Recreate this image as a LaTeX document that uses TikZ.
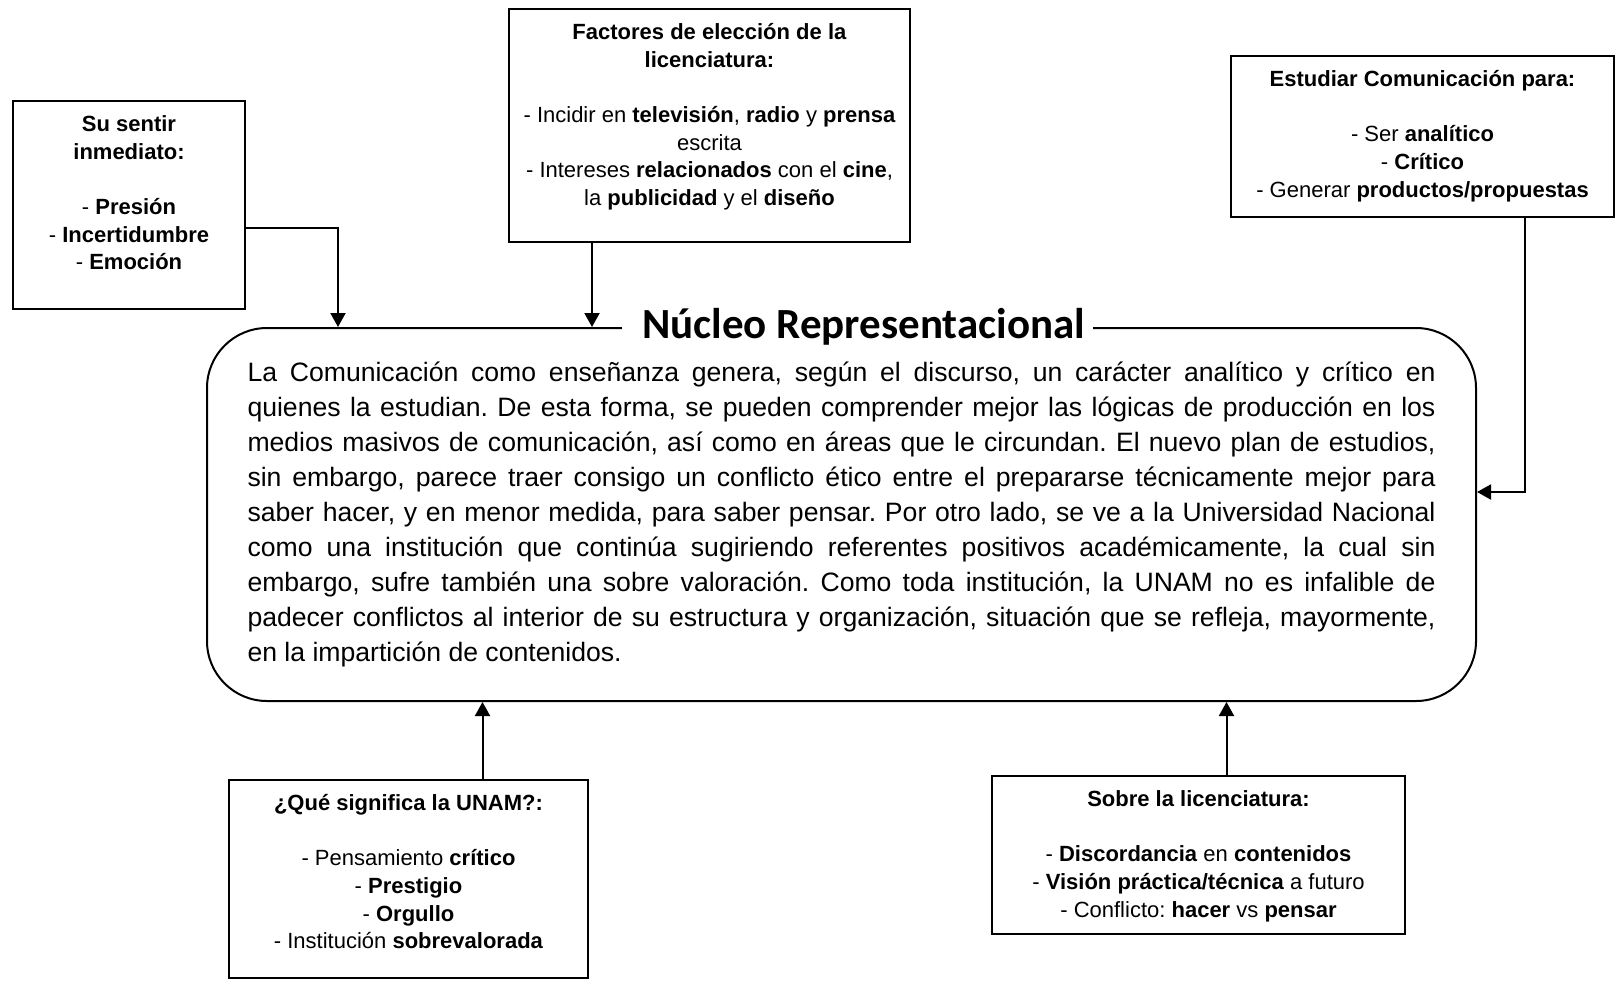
\documentclass[tikz,border=0pt]{standalone}
\usepackage{fontspec}
\setmainfont{Liberation Sans}
\newfontfamily\titlefont{Carlito}
\usetikzlibrary{arrows.meta}
\frenchspacing

\newcommand{\boxfont}{\fontsize{11}{13.85}\selectfont}
\newcommand{\bodyfont}{\fontsize{13.3}{17.55}\selectfont\hyphenpenalty=10000\exhyphenpenalty=10000}

\begin{document}
\begin{tikzpicture}[
    x = 0.5pt,
    y = -0.5pt,
    >={Triangle[length=7pt,width=7.5pt]},
    frame/.style = {draw, line width=1pt, inner sep=0pt, anchor=north west},
    boxtext/.style = {anchor=north, inner sep=0pt, align=center, font=\boxfont},
    link/.style = {->, line width=1pt},
    ]
\useasboundingbox (0,0) rectangle (1615,980);

% cajas de alrededor
\node[frame, minimum width=116pt, minimum height=104pt] (sentir) at (12,100){};
\node[frame, minimum width=200.5pt, minimum height=116.5pt] (factores) at (508,8){};
\node[frame, minimum width=191.5pt, minimum height=80.5pt] (estudiar) at (1230,55){};
\node[frame, minimum width=179.5pt, minimum height=99pt] (unam) at (228,779){};
\node[frame, minimum width=206.5pt, minimum height=79pt] (sobre) at (991,775){};

\node[boxtext] (sentir_txt) at ([yshift=-5.8pt]sentir.north)
    {\strut\textbf{Su sentir}\\ \textbf{inmediato:}\\[13.85pt]
     - \textbf{Presión}\\ - \textbf{Incertidumbre}\\ - \textbf{Emoción}};
\node[boxtext] (factores_txt) at ([yshift=-5.8pt]factores.north)
    {\strut\textbf{Factores de elección de la}\\ \textbf{licenciatura:}\\[13.85pt]
     - Incidir en \textbf{televisión}, \textbf{radio} y \textbf{prensa}\\ escrita\\
     - Intereses \textbf{relacionados} con el \textbf{cine},\\
     la \textbf{publicidad} y el \textbf{diseño}};
\node[boxtext] (estudiar_txt) at ([yshift=-5.8pt]estudiar.north)
    {\strut\textbf{Estudiar Comunicación para:}\\[13.85pt]
     - Ser \textbf{analítico}\\ - \textbf{Crítico}\\
     - Generar \textbf{productos/propuestas}};
\node[boxtext] (unam_txt) at ([yshift=-5.8pt]unam.north)
    {\strut\textbf{¿Qué significa la UNAM?:}\\[13.85pt]
     - Pensamiento \textbf{crítico}\\ - \textbf{Prestigio}\\ - \textbf{Orgullo}\\
     - Institución \textbf{sobrevalorada}};
\node[boxtext] (sobre_txt) at ([yshift=-5.8pt]sobre.north)
    {\strut\textbf{Sobre la licenciatura:}\\[13.85pt]
     - \textbf{Discordancia} en \textbf{contenidos}\\
     - \textbf{Visión práctica/técnica} a futuro\\
     - Conflicto: \textbf{hacer} vs \textbf{pensar}};

% nucleo
\node[draw, line width=1pt, rounded corners=30pt, inner sep=0pt,
      minimum width=634.5pt, minimum height=186.5pt,
      text width=594pt, align=justify, font=\bodyfont] (nucleo) at (841.5,514.5)
    {La Comunicación como enseñanza genera, según el discurso, un carácter analítico y crítico en\linebreak
     quienes la estudian. De esta forma, se pueden comprender mejor las lógicas de producción en los\linebreak
     medios masivos de comunicación, así como en áreas que le circundan. El nuevo plan de estudios,\linebreak
     sin embargo, parece traer consigo un conflicto ético entre el prepararse técnicamente mejor para\linebreak
     saber hacer, y en menor medida, para saber pensar. Por otro lado, se ve a la Universidad Nacional\linebreak
     como una institución que continúa sugiriendo referentes positivos académicamente, la cual sin\linebreak
     embargo, sufre también una sobre valoración. Como toda institución, la UNAM no es infalible de\linebreak
     padecer conflictos al interior de su estructura y organización, situación que se refleja, mayormente,\linebreak
     en la impartición de contenidos.};
\node[fill=white, inner xsep=4pt, inner ysep=3pt, anchor=base,
      font=\titlefont\bfseries\fontsize{21.5}{25}\selectfont] (titulo) at (857.5,338)
    {\hspace*{6pt}Núcleo Representacional};

% flechas
\draw[link] ([yshift=-11.5pt]sentir.east) -| ([xshift=66pt]nucleo.north west);
\draw[link] ([xshift=42pt]factores.south west) -- ([xshift=42pt]factores.south west |- nucleo.north);
\draw[link] ([xshift=51pt]estudiar.south) |- ([yshift=11.25pt]nucleo.east);
\draw[link] ([xshift=37pt]unam.north) -- ([xshift=37pt]unam.north |- nucleo.south);
\draw[link] ([xshift=14pt]sobre.north) -- ([xshift=14pt]sobre.north |- nucleo.south);

\end{tikzpicture}
\end{document}
